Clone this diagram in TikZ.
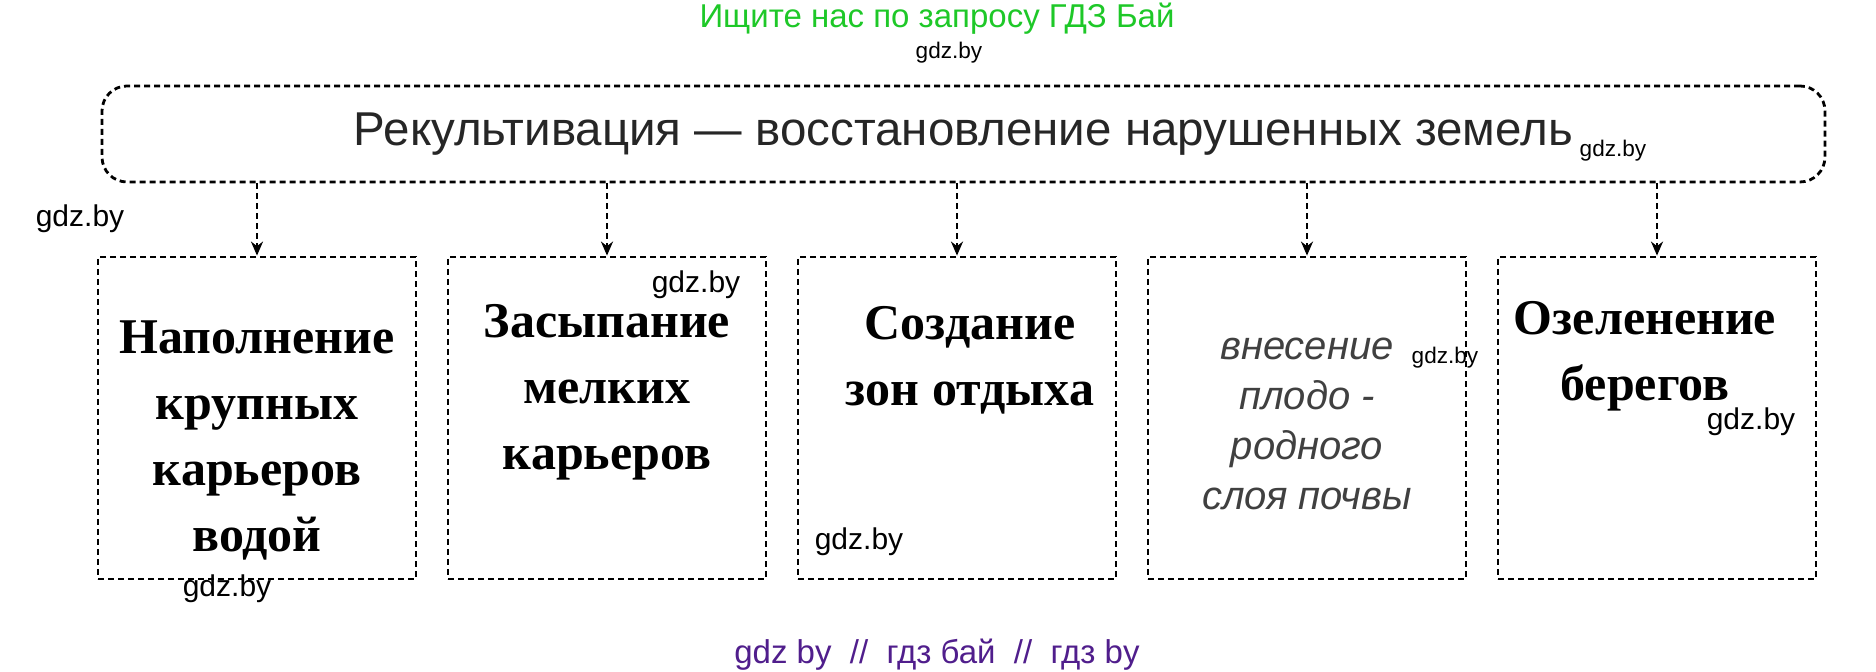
\documentclass[tikz,border=0pt]{standalone}
\usepackage{fontspec}
\setmainfont{Liberation Serif}
\newfontfamily\sansFont{Liberation Sans}
\usepackage{tikz}
\usetikzlibrary{positioning, arrows.meta}
\definecolor{searchGreen}{RGB}{30,200,40}
\definecolor{footPurple}{RGB}{80,30,140}
\tikzstyle{sheet} = [x = .5pt, y = -.5pt]
\tikzstyle{frameLine} = [draw=black, densely dashed, line width=1.4pt]
\tikzstyle{headBox} = [frameLine, rounded corners=12.5pt, minimum width=861.5pt, minimum height=48pt, inner sep=0pt, font=\sansFont\fontsize{23.75}{28}\selectfont, text=black!85]
\tikzstyle{stepBox} = [frameLine, minimum width=159pt, minimum height=161pt, inner sep=0pt]
\tikzstyle{arrowLine} = [densely dashed, line width=1.3pt, -{Stealth[length=7pt, width=6pt]}]
\tikzstyle{stepText} = [font=\bfseries\fontsize{25}{33}\selectfont, align=center, inner sep=0pt]
\tikzstyle{handText} = [font=\sansFont\itshape\fontsize{20}{25}\selectfont, align=center, text=black!75, inner sep=0pt]
\tikzstyle{markText} = [font=\sansFont\fontsize{15}{18}\selectfont, inner sep=0pt]
\tikzstyle{smallMark} = [font=\sansFont\fontsize{11.3}{14}\selectfont, inner sep=0pt]
\tikzstyle{siteText} = [font=\sansFont\fontsize{16.5}{20}\selectfont, inner sep=0pt]

\begin{document}
\begin{tikzpicture}[sheet]
  \useasboundingbox (0,0) rectangle (1876,672);

  \node (search) [siteText, text=searchGreen] at (937,19) {Ищите нас по запросу ГДЗ Бай};
  \node (footer) [siteText, text=footPurple] at (937,655) {gdz by\ \ //\ \ гдз бай\ \ //\ \ гдз by};

  \node (recl) [headBox] at (963.5,134) {Рекультивация — восстановление нарушенных земель};

  \foreach \name [count=\i from 0] in {fill,bury,rest,soil,green} {
    \node (\name) [stepBox] at (257 + 350 * \i, 418) {};
    \draw [arrowLine] (recl.south -| \name.north) -- (\name.north);
  }

  \node (fillText) [stepText, below=32.5pt of fill.north] {Наполнение\\крупных\\карьеров\\водой};
  \node (buryText) [stepText, below=24pt of bury.north] {Засыпание\\мелких\\карьеров};
  \node (restText) [stepText, below=25pt of rest.north, xshift=6.5pt] {Создание\\зон отдыха};
  \node (soilText) [handText, below=41pt of soil.north] {внесение\\плодо -\\родного\\слоя почвы};
  \node (greenText) [stepText, below=22.5pt of green.north, xshift=-6pt] {Озеленение\\берегов};

  \foreach \mx/\my [count=\k] in {80/219, 696/285, 859/542, 227/589, 1751/422}
    \node (mark\k) [markText] at (\mx,\my) {gdz.by};
  \foreach \mx/\my [count=\k] in {949/53, 1613/151, 1445/358}
    \node (smallMark\k) [smallMark] at (\mx,\my) {gdz.by};
\end{tikzpicture}
\end{document}
